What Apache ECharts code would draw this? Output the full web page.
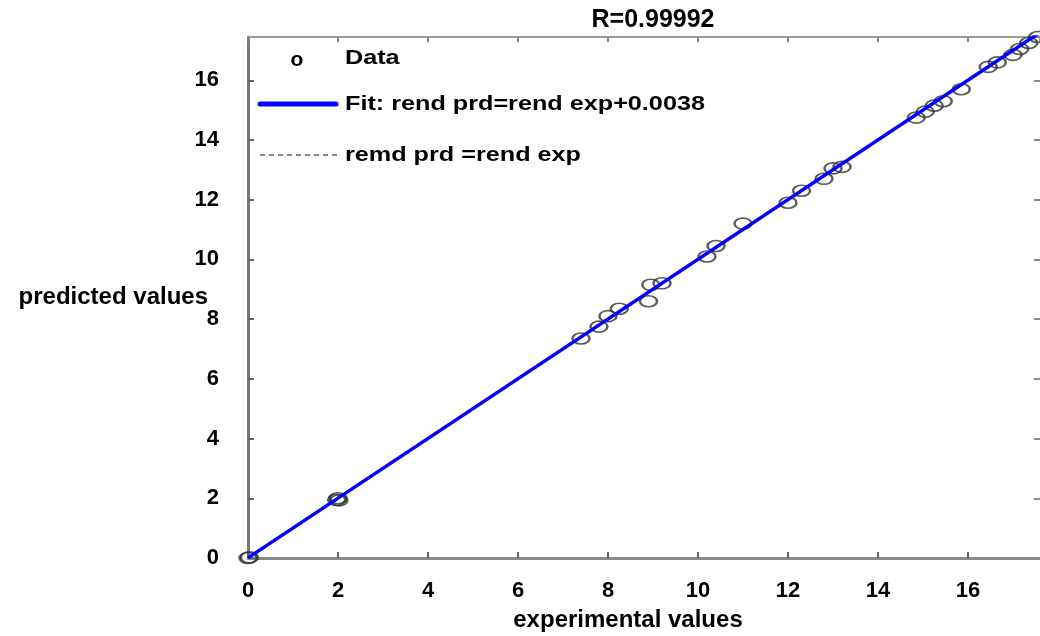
<!DOCTYPE html>
<html>
<head>
<meta charset="utf-8">
<script src="https://cdn.jsdelivr.net/npm/echarts@6/dist/echarts.min.js"></script>
<style>
  html, body { margin: 0; padding: 0; background: #fff; }
  #chart { width: 1040px; height: 636px; }
</style>
</head>
<body>
<div id="chart"></div>
<script>
  // experimental vs predicted values
  var expValues = [0, 0.03, 0.05, 1.97, 2.0, 2.02, 7.4, 7.8, 8.0, 8.25, 8.9, 8.95, 9.2, 10.2, 10.4, 11.0,
    12.0, 12.3, 12.8, 13.0, 13.2, 14.85, 15.05, 15.25, 15.45, 15.85, 16.45, 16.65, 17.0, 17.15, 17.35, 17.55]
  var prdValues = [0, 0.02, -0.03, 1.95, 2.0, 1.93, 7.35, 7.75, 8.1, 8.35, 8.6, 9.15, 9.2, 10.1, 10.45, 11.2,
    11.9, 12.3, 12.7, 13.05, 13.1, 14.75, 14.95, 15.15, 15.3, 15.7, 16.45, 16.6, 16.85, 17.05, 17.25, 17.45]
  var fitX = [0, 17.6]
  var fitY = [0.0038, 17.6038]
  var idX = [0, 17.6]
  var idY = [0, 17.6]
  var rText = 'R=0.99992'
  var legendNames = ['Data', 'Fit: rend prd=rend exp+0.0038', 'remd prd =rend exp']

  var font = '"Liberation Sans", Arial, sans-serif'
  var axisGray = '#8a8a8a'

  function zip(a, b) {
    return a.map(function (v, i) { return [v, b[i]] })
  }

  var myChart = echarts.init(document.getElementById('chart'))

  var labelStyle = { color: '#000', fontWeight: 'bold', fontSize: 22, fontFamily: font }

  myChart.setOption({
    animation: false,
    title: {
      text: rText,
      left: 648,
      textAlign: 'center',
      top: 3,
      textStyle: { color: '#000', fontWeight: 'bold', fontSize: 25, fontFamily: font }
    },
    grid: { left: 248, right: 0, top: 37, bottom: 78, outerBoundsMode: 'none' },
    xAxis: [
      {
        type: 'value', min: 0, max: 17.6, interval: 2,
        name: 'experimental values',
        nameLocation: 'middle',
        nameGap: 50,
        nameMoveOverlap: false,
        nameTextStyle: { color: '#000', fontWeight: 'bold', fontSize: 24, fontFamily: font, padding: [0, 32, 0, 0] },
        axisLine: { lineStyle: { color: axisGray, width: 3 } },
        axisTick: { inside: true, length: 6, lineStyle: { color: '#666', width: 2 } },
        axisLabel: Object.assign({ margin: 22, showMaxLabel: false }, labelStyle),
        splitLine: { show: false }
      },
      {
        type: 'value', min: 0, max: 17.6, interval: 2, position: 'top',
        axisLine: { show: true, onZero: false, lineStyle: { color: '#999', width: 2 } },
        axisTick: { inside: true, length: 5, lineStyle: { color: '#888', width: 2 } },
        axisLabel: { show: false },
        splitLine: { show: false }
      }
    ],
    yAxis: [
      {
        type: 'value', min: 0, max: 17.45, interval: 2,
        name: 'predicted values',
        nameLocation: 'middle',
        nameRotate: 0,
        nameGap: 40,
        nameMoveOverlap: false,
        nameTextStyle: { color: '#000', fontWeight: 'bold', fontSize: 24, fontFamily: font, padding: [0, 0, 14, 0] },
        axisLine: { lineStyle: { color: '#777', width: 3 } },
        axisTick: { inside: true, length: 6, lineStyle: { color: '#666', width: 2 } },
        axisLabel: Object.assign({ margin: 29, showMaxLabel: false }, labelStyle),
        splitLine: { show: false }
      },
      {
        type: 'value', min: 0, max: 17.45, interval: 2, position: 'right',
        axisLine: { show: false, onZero: false },
        axisTick: { inside: true, length: 6, lineStyle: { color: '#888', width: 2 } },
        axisLabel: { show: false },
        splitLine: { show: false }
      }
    ],
    graphic: [
      { type: 'text', x: 297, y: 60, style: { text: 'o', font: 'bold 21px ' + font, fill: '#000', align: 'center', verticalAlign: 'middle' } },
      { type: 'text', x: 345, y: 58, scaleX: 1.2, style: { text: legendNames[0], font: 'bold 21px ' + font, fill: '#000', verticalAlign: 'middle' } },
      { type: 'line', shape: { x1: 260, y1: 104, x2: 336, y2: 104 }, style: { stroke: '#0000ff', lineWidth: 5, lineCap: 'round' } },
      { type: 'text', x: 345, y: 104, scaleX: 1.2, style: { text: legendNames[1], font: 'bold 21px ' + font, fill: '#000', verticalAlign: 'middle' } },
      { type: 'line', shape: { x1: 260, y1: 155, x2: 338, y2: 155 }, style: { stroke: '#111', lineWidth: 1.2, lineDash: [5, 4] } },
      { type: 'text', x: 345, y: 155, scaleX: 1.2, style: { text: legendNames[2], font: 'bold 21px ' + font, fill: '#000', verticalAlign: 'middle' } }
    ],
    series: [
      {
        name: legendNames[2],
        type: 'line',
        data: zip(idX, idY),
        symbol: 'none',
        lineStyle: { color: '#000', width: 1, type: [5, 4] }
      },
      {
        name: legendNames[0],
        type: 'scatter',
        data: zip(expValues, prdValues),
        symbol: 'circle',
        symbolSize: [17, 11],
        itemStyle: { color: 'rgba(0,0,0,0)', borderColor: '#333', borderWidth: 2 }
      },
      {
        name: legendNames[1],
        type: 'line',
        data: zip(fitX, fitY),
        symbol: 'none',
        lineStyle: { color: '#0000ff', width: 3.5 }
      }
    ]
  })
</script>
</body>
</html>
